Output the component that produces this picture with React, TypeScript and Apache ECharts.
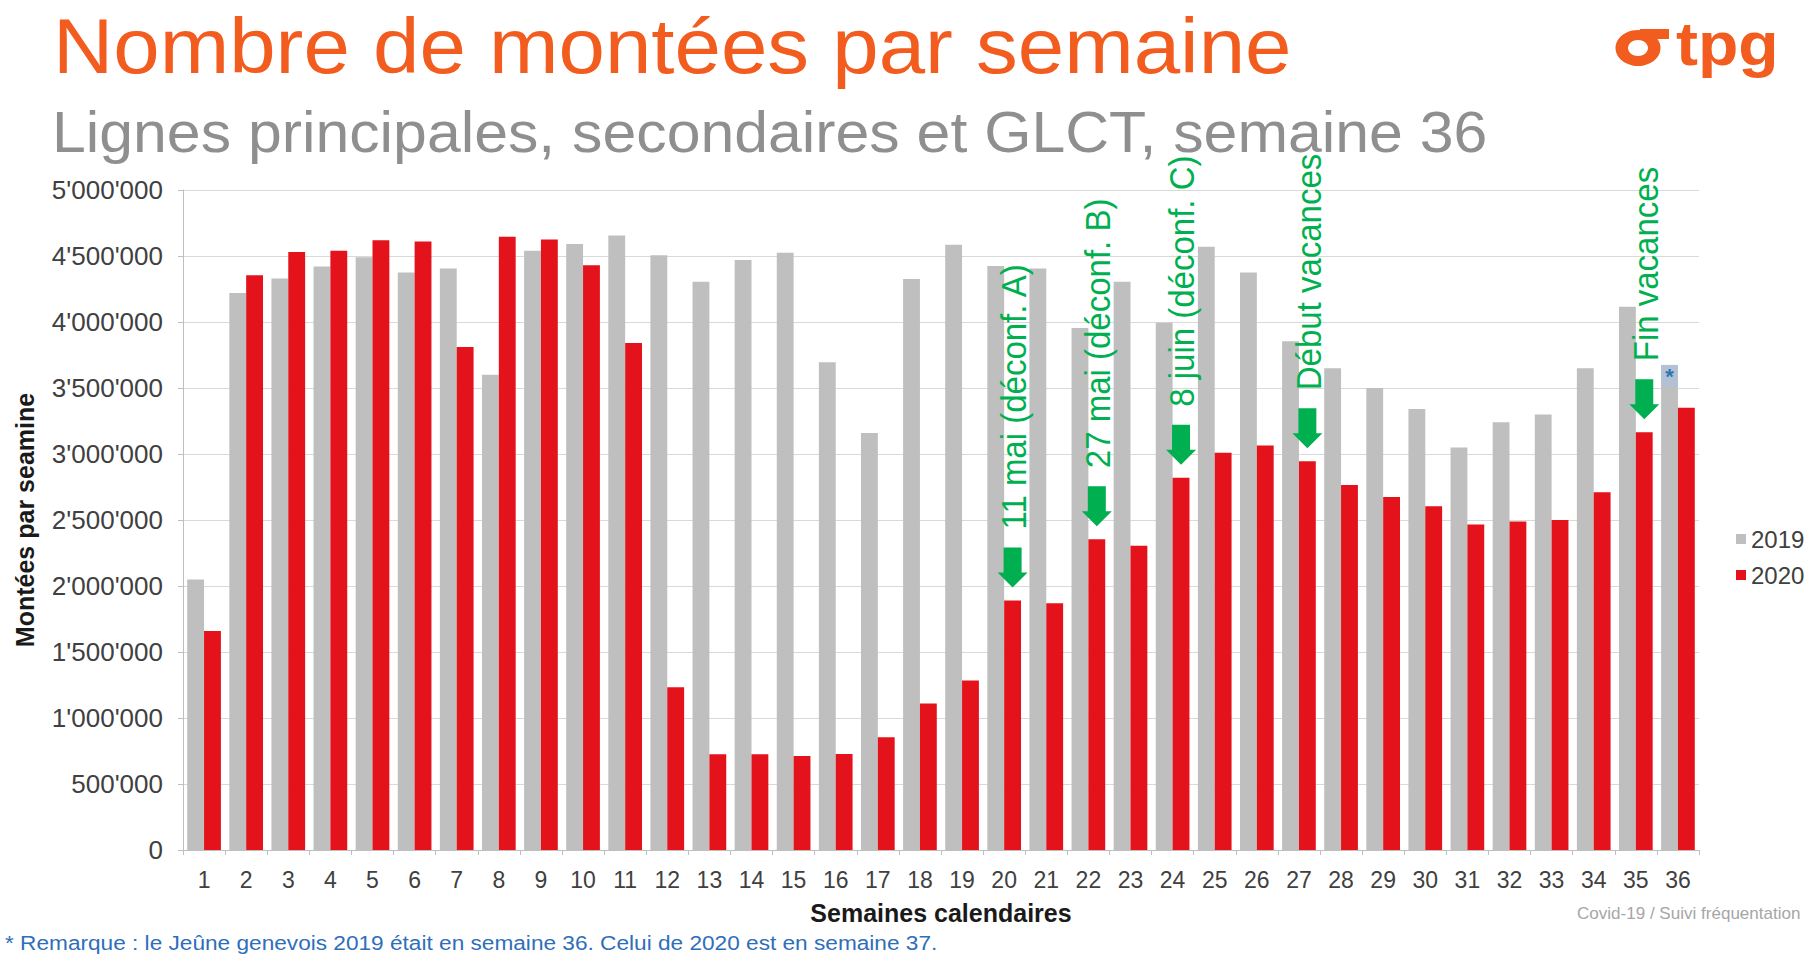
import React, { useEffect, useRef } from 'react';
import * as echarts from 'echarts';

const weeks = ['1','2','3','4','5','6','7','8','9','10','11','12','13','14','15','16','17','18','19','20','21','22','23','24','25','26','27','28','29','30','31','32','33','34','35','36'];

const values2019 = [2050000, 4220000, 4330000, 4420000, 4490000, 4375000, 4405000, 3600000, 4540000, 4590000, 4655000, 4505000, 4305000, 4470000, 4525000, 3695000, 3160000, 4325000, 4585000, 4425000, 4405000, 3955000, 4305000, 3995000, 4570000, 4375000, 3855000, 3650000, 3500000, 3340000, 3050000, 3240000, 3300000, 3650000, 4115000, 3675000];

const values2020 = [1660000, 4355000, 4530000, 4540000, 4620000, 4610000, 3810000, 4645000, 4625000, 4430000, 3840000, 1233000, 726000, 726000, 712000, 728000, 855000, 1110000, 1285000, 1890000, 1870000, 2355000, 2305000, 2820000, 3010000, 3065000, 2945000, 2765000, 2675000, 2605000, 2465000, 2488000, 2500000, 2710000, 3165000, 3350000];

const yTicks = { min: 0, max: 5000000, interval: 500000 };

const annotations = [
  { week: '20', label: '11 mai (déconf. A)' },
  { week: '22', label: '27 mai (déconf. B)' },
  { week: '24', label: '8 juin (déconf. C)' },
  { week: '27', label: 'Début vacances' },
  { week: '35', label: 'Fin vacances' },
];

const starWeek = '36';

const TITLE = 'Nombre de montées par semaine';
const SUBTITLE = 'Lignes principales, secondaires et GLCT, semaine 36';
const FOOTNOTE = '* Remarque : le Jeûne genevois 2019 était en semaine 36. Celui de 2020 est en semaine 37.';
const SOURCE = 'Covid-19 / Suivi fréquentation';

const FONT = '"Liberation Sans", Arial, Helvetica, sans-serif';
const ORANGE = '#F25C1E';
const GREEN = '#00B050';
const GRAY19 = '#BFBFBF';
const RED20 = '#E3121B';

function fmt(v: number) {
  return String(v).replace(/\B(?=(\d{3})+(?!\d))/g, "'");
}

export default function App() {
  const ref = useRef<HTMLDivElement>(null);
  useEffect(() => {
    const chart = echarts.init(ref.current!, null, { renderer: 'svg' });
    chart.setOption({
      animation: false,
      backgroundColor: '#ffffff',
      textStyle: { fontFamily: FONT },
      grid: { left: 183, right: 115, top: 190, bottom: 107, containLabel: false },
      legend: {
        data: ['2019', '2020'],
        orient: 'vertical',
        left: 1731,
        top: 522,
        icon: 'rect',
        itemWidth: 10,
        itemHeight: 10,
        itemGap: 12,
        textStyle: { fontSize: 24, color: '#404040', fontFamily: FONT },
      },
      xAxis: {
        type: 'category',
        data: weeks,
        name: 'Semaines calendaires',
        nameLocation: 'middle',
        nameGap: 50,
        nameTextStyle: { fontSize: 25, fontWeight: 'bold', color: '#1a1a1a', fontFamily: FONT },
        axisLine: { lineStyle: { color: '#BFBFBF', width: 1 } },
        axisTick: { show: true, length: 5, lineStyle: { color: '#BFBFBF' } },
        axisLabel: { interval: 0, fontSize: 23, color: '#404040', margin: 18, fontFamily: FONT },
      },
      yAxis: {
        type: 'value',
        min: yTicks.min,
        max: yTicks.max,
        interval: yTicks.interval,
        name: 'Montées par seamine',
        nameLocation: 'middle',
        nameGap: 146,
        nameRotate: 90,
        nameTextStyle: { fontSize: 25, fontWeight: 'bold', color: '#1a1a1a', fontFamily: FONT },
        axisLine: { show: true, lineStyle: { color: '#BFBFBF', width: 1 } },
        axisTick: { show: true, length: 5, lineStyle: { color: '#BFBFBF' } },
        splitLine: { lineStyle: { color: '#D9D9D9', width: 1 } },
        axisLabel: { fontSize: 26, color: '#404040', margin: 20, formatter: (v: number) => fmt(v), fontFamily: FONT },
      },
      series: [
        { name: '2019', type: 'bar', data: values2019, itemStyle: { color: GRAY19 }, barGap: '0%', barCategoryGap: '20%' },
        { name: '2020', type: 'bar', data: values2020, itemStyle: { color: RED20 }, barGap: '0%', barCategoryGap: '20%' },
      ],
    });

    const barBox = (seriesIndex: number, idx: number, value: number) => {
      try {
        const data = (chart as any).getModel().getSeriesByIndex(seriesIndex).getData();
        const l = data.getItemLayout(idx);
        if (l && isFinite(l.x)) {
          return { cx: l.x + l.width / 2, top: Math.min(l.y, l.y + l.height), width: Math.abs(l.width) };
        }
      } catch (e) {}
      const p = chart.convertToPixel({ seriesIndex }, [idx, value]) as number[];
      const band = (1814 - 183 - 115) / weeks.length;
      return { cx: p[0] + (seriesIndex === 0 ? -0.2 : 0.2) * band, top: p[1], width: band * 0.4 };
    };

    const graphics: any[] = [
      { type: 'text', x: 53, y: 46, scaleX: 1.07, style: { text: TITLE, fill: ORANGE, font: `78px ${FONT}`, align: 'left', verticalAlign: 'middle' } },
      { type: 'text', x: 52, y: 132, scaleX: 1.066, style: { text: SUBTITLE, fill: '#8F8F8F', font: `57px ${FONT}`, align: 'left', verticalAlign: 'middle' } },
      { type: 'text', x: 5, y: 943, scaleX: 1.078, style: { text: FOOTNOTE, fill: '#2F6EBA', font: `21px ${FONT}`, align: 'left', verticalAlign: 'middle' } },
      { type: 'text', x: 1577, y: 914, scaleX: 1.066, style: { text: SOURCE, fill: '#A6A6A6', font: `16px ${FONT}`, align: 'left', verticalAlign: 'middle' } },
      // logo
      { type: 'ring', x: 1638, y: 48, scaleX: 1.25, shape: { cx: 0, cy: 0, r: 18, r0: 8 }, style: { fill: ORANGE } },
      { type: 'rect', shape: { x: 1640, y: 29, width: 29, height: 10 }, style: { fill: ORANGE } },
      { type: 'text', x: 1676, y: 44, scaleX: 1.066, style: { text: 'tpg', fill: ORANGE, font: `bold 62px ${FONT}`, align: 'left', verticalAlign: 'middle' } },
    ];

    annotations.forEach((a) => {
      const idx = weeks.indexOf(a.week);
      const b = barBox(1, idx, values2020[idx]);
      const cx = b.cx;
      const t = b.top;
      const tip = t - 13;
      const headBase = tip - 15;
      const stemTop = tip - 40;
      graphics.push({
        type: 'polygon',
        z: 100,
        shape: {
          points: [
            [cx - 9, stemTop], [cx + 9, stemTop], [cx + 9, headBase], [cx + 15, headBase],
            [cx, tip], [cx - 15, headBase], [cx - 9, headBase],
          ],
        },
        style: { fill: GREEN },
      });
      graphics.push({
        type: 'text',
        z: 100,
        x: cx + 1,
        y: stemTop - 18,
        rotation: Math.PI / 2,
        scaleY: 1.066,
        style: { text: a.label, fill: GREEN, font: `33px ${FONT}`, align: 'left', verticalAlign: 'middle' },
      });
    });

    {
      const idx = weeks.indexOf(starWeek);
      const b = barBox(0, idx, values2019[idx]);
      graphics.push({ type: 'rect', z: 100, shape: { x: b.cx - b.width / 2, y: b.top, width: b.width, height: 22 }, style: { fill: '#B3C1D4' } });
      graphics.push({ type: 'text', z: 101, x: b.cx, y: b.top + 12, style: { text: '*', fill: '#2E75B6', font: `bold 22px ${FONT}`, align: 'center', verticalAlign: 'middle' } });
    }

    chart.setOption({ graphic: graphics });
    return () => chart.dispose();
  }, []);
  return <div ref={ref} style={{ position: 'fixed', left: 0, top: 0, width: 1814, height: 957, background: '#ffffff' }} />;
}
